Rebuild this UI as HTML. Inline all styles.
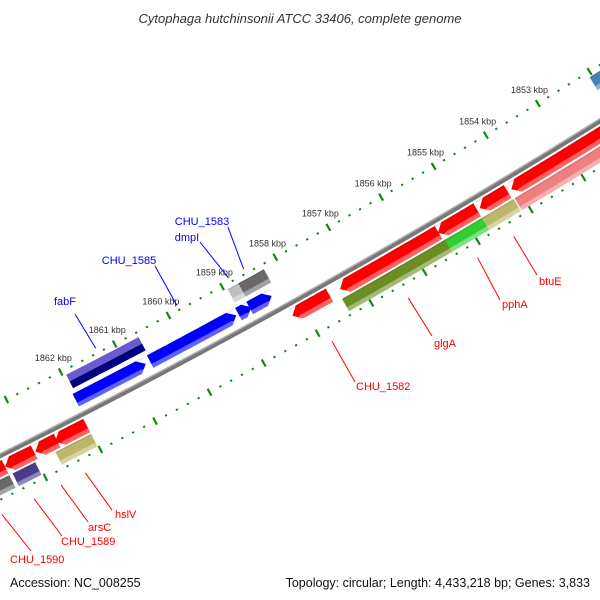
<!DOCTYPE html>
<html><head><meta charset="utf-8">
<style>
html,body{margin:0;padding:0;background:#fff;}
svg{display:block;font-family:"Liberation Sans","DejaVu Sans",sans-serif;}
</style></head>
<body>
<svg id="map" width="600" height="600" viewBox="0 0 600 600" xmlns="http://www.w3.org/2000/svg">
<rect x="0" y="0" width="600" height="600" fill="#fff"/>
<text x="300" y="23" text-anchor="middle" font-size="13" font-style="italic" fill="#333">Cytophaga hutchinsonii ATCC 33406, complete genome</text>
<text x="10" y="587" font-size="12.5" fill="#111">Accession: NC_008255</text>
<text x="590" y="587" text-anchor="end" font-size="12.5" fill="#111">Topology: circular; Length: 4,433,218 bp; Genes: 3,833</text>
<g id="ticks"></g>
<g id="backbone"></g>
<g id="features"></g>
<g id="labels"></g>
</svg>
<script>
// ---- data (kbp) ----
const featNames = ["CHU_1582","red-long","red-s1","red-s2","red-big","pink","btuE","pphA","glgA",
  "blue-big","blue-small","blue-3","blue-low","fabF","CHU_1583-a","CHU_1583-b",
  "red-l1","red-l2","red-l3","red-l4","arsC","hslV","CHU_1590","steelblue"];
const featStart = [1857.53,1855.48,1854.75,1854.17,1851.5,1851.5,1854.15,1854.75,1855.45,
  1859.02,1858.74,1858.36,1860.70,1860.60,1858.64,1858.26,
  1863.51,1862.98,1862.56,1862.02,1863.04,1862.02,1863.51,1851.8];
const featEnd = [1858.22,1857.33,1855.49,1854.70,1854.10,1854.13,1854.75,1855.55,1857.38,
  1860.62,1858.98,1858.77,1861.99,1861.94,1858.94,1858.74,
  1864.2,1863.51,1862.96,1862.60,1863.45,1862.67,1864.3,1852.05];
const featStrand = [-1,-1,-1,-1,-1,-1,-1,-1,-1, 1,1,1,1,1,1,1, -1,-1,-1,-1,-1,-1,-1,1];
const featLane = [1,1,1,1,1,2,2,2,2, 1,1,1,1,2,2,2, 1,1,1,1,2,2,2,2];
const featArrow = [1,1,1,1,1,0,0,0,0, 1,1,1,1,0,0,0, 1,1,1,1,0,0,0,0];
const featColor = ["#ff0000","#ff0000","#ff0000","#ff0000","#ff0000","#f08080","#bdb76b","#32cd32","#6b8e23",
  "#0000ff","#0000ff","#0000ff","#0000ff","#6a5acd","#c0c0c0","#696969",
  "#ff0000","#ff0000","#ff0000","#ff0000","#483d8b","#bdb76b","#696969","#4682b4"];
const labelText = ["fabF","CHU_1585","dmpI","CHU_1583","CHU_1582","glgA","pphA","btuE","hslV","arsC","CHU_1589","CHU_1590"];
const labelKbp = [1861.31,1859.8,1858.84,1858.55,1857.86,1856.44,1855.14,1854.46,1862.39,1862.83,1863.32,1863.9];
const tickKbpStart = 1849, tickKbpEnd = 1866;

// ---- geometry ----
const CX=-3166, CY=-5921, R=7119;
const TH0=Math.atan2(167-CY,434-CX), DTH=0.493*Math.PI/180;
function pt(k,d){const t=TH0+(k-1855)*DTH, r=R+d;return [CX+r*Math.cos(t),CY+r*Math.sin(t)];}
function f(p){return p[0].toFixed(2)+","+p[1].toFixed(2);}
const NS="http://www.w3.org/2000/svg";
function mk(tag,attrs,parent){const e=document.createElementNS(NS,tag);for(const a in attrs)e.setAttribute(a,attrs[a]);parent.appendChild(e);return e;}
function laneRange(strand,lane){
  if(strand<0) return lane===1?[5,20]:[22,36];
  return lane===1?[-22,-8]:[-42,-27];
}
function bandPath(a,b,r1,r2,arrow,strand){
  const lo=Math.min(a,b), hi=Math.max(a,b), head=0.13, n=8, pts=[];
  let bLo=lo,bHi=hi;
  if(arrow){ if(strand>0) bLo=Math.min(hi,lo+head); else bHi=Math.max(lo,hi-head); }
  for(let i=0;i<=n;i++) pts.push(pt(bLo+(bHi-bLo)*i/n,r1));
  if(arrow&&strand<0) pts.push(pt(hi,(r1+r2)/2));
  for(let i=n;i>=0;i--) pts.push(pt(bLo+(bHi-bLo)*i/n,r2));
  if(arrow&&strand>0) pts.push(pt(lo,(r1+r2)/2));
  return "M"+pts.map(f).join("L")+"Z";
}

// backbone
const bb=document.getElementById('backbone');
function arcLine(d,k0,k1){const p=[];for(let i=0;i<=40;i++)p.push(pt(k0+(k1-k0)*i/40,d));return "M"+p.map(f).join("L");}
let e=mk('path',{d:arcLine(0.5,1849,1866),stroke:"#777",'stroke-width':5,fill:"none"},bb);


e=mk('path',{d:arcLine(-1.3,1849,1866),stroke:"#b0b0b0",'stroke-width':1.4,fill:"none"},bb);



// ticks
const tg=document.getElementById('ticks');
[-47,40].forEach(function(d,ri){
  for(let i=Math.round(tickKbpStart*5);i<=tickKbpEnd*5;i++){
    const k=i/5, major=(i%5===0);
    const p1=pt(k,d-(major?4:1)), p2=pt(k,d+(major?4:1));
    const t=mk('line',{x1:p1[0],y1:p1[1],x2:p2[0],y2:p2[1],stroke:"#118811",'stroke-width':2.2},tg);
    
    
    if(major&&ri===0){
      const lp=pt(k,-63);
      if(lp[0]>20&&lp[0]<560){
        const tx=mk('text',{x:lp[0].toFixed(1),y:(lp[1]+3).toFixed(1),'text-anchor':'middle','font-size':9,fill:"#333"},tg);
        tx.textContent=k+" kbp";
        
        
      }
    }
  }
});

// features
const fg=document.getElementById('features');
for(let i=0;i<featNames.length;i++){
  const rr=laneRange(featStrand[i],featLane[i]);
  const g=mk('g',{},fg);
  
  
  mk('path',{d:bandPath(featStart[i],featEnd[i],rr[0],rr[1],featArrow[i],featStrand[i]),fill:featColor[i]},g);
  const r3=rr[1]-(rr[1]-rr[0])*0.3;
  if(featNames[i]==="fabF"){
    mk('path',{d:bandPath(featStart[i],featEnd[i],(rr[0]+rr[1])/2,rr[1],0,1),fill:"#000080"},g);
  } else {
    mk('path',{d:bandPath(featStart[i],featEnd[i],r3,rr[1],featArrow[i],featStrand[i]),fill:"#fff",'fill-opacity':0.38},g);
    mk('path',{d:bandPath(featStart[i],featEnd[i],rr[0],rr[0]+1.2,0,1),fill:"#000",'fill-opacity':0.12},g);
  }
}

// labels
const lg=document.getElementById('labels');
const labelEnd=[[75,314],[155,266],[200,242],[228,227],[355,382],[432,336],[500,300],[537,275],[112,510],[88,522],[62,536],[31,551]];
const labelPos=[[65,305,'middle'],[129,264,'middle'],[187,241,'middle'],[202,225,'middle'],[356,390,'start'],[434,347,'start'],[502,308,'start'],[539,285,'start'],[115,518,'start'],[88,531,'start'],[61,545,'start'],[10,563,'start']];
for(let i=0;i<labelText.length;i++){
  const inner=i<4, col=inner?"#0000ff":"#ff0000";
  const s=pt(labelKbp[i],inner?-52:54);
  const l=mk('line',{x1:s[0],y1:s[1],x2:labelEnd[i][0],y2:labelEnd[i][1],stroke:col,'stroke-width':1},lg);
  
  
  const t=mk('text',{x:labelPos[i][0],y:labelPos[i][1],'text-anchor':labelPos[i][2],'font-size':11,fill:col},lg);
  t.textContent=labelText[i];
  
  
}
</script>
</body></html>
